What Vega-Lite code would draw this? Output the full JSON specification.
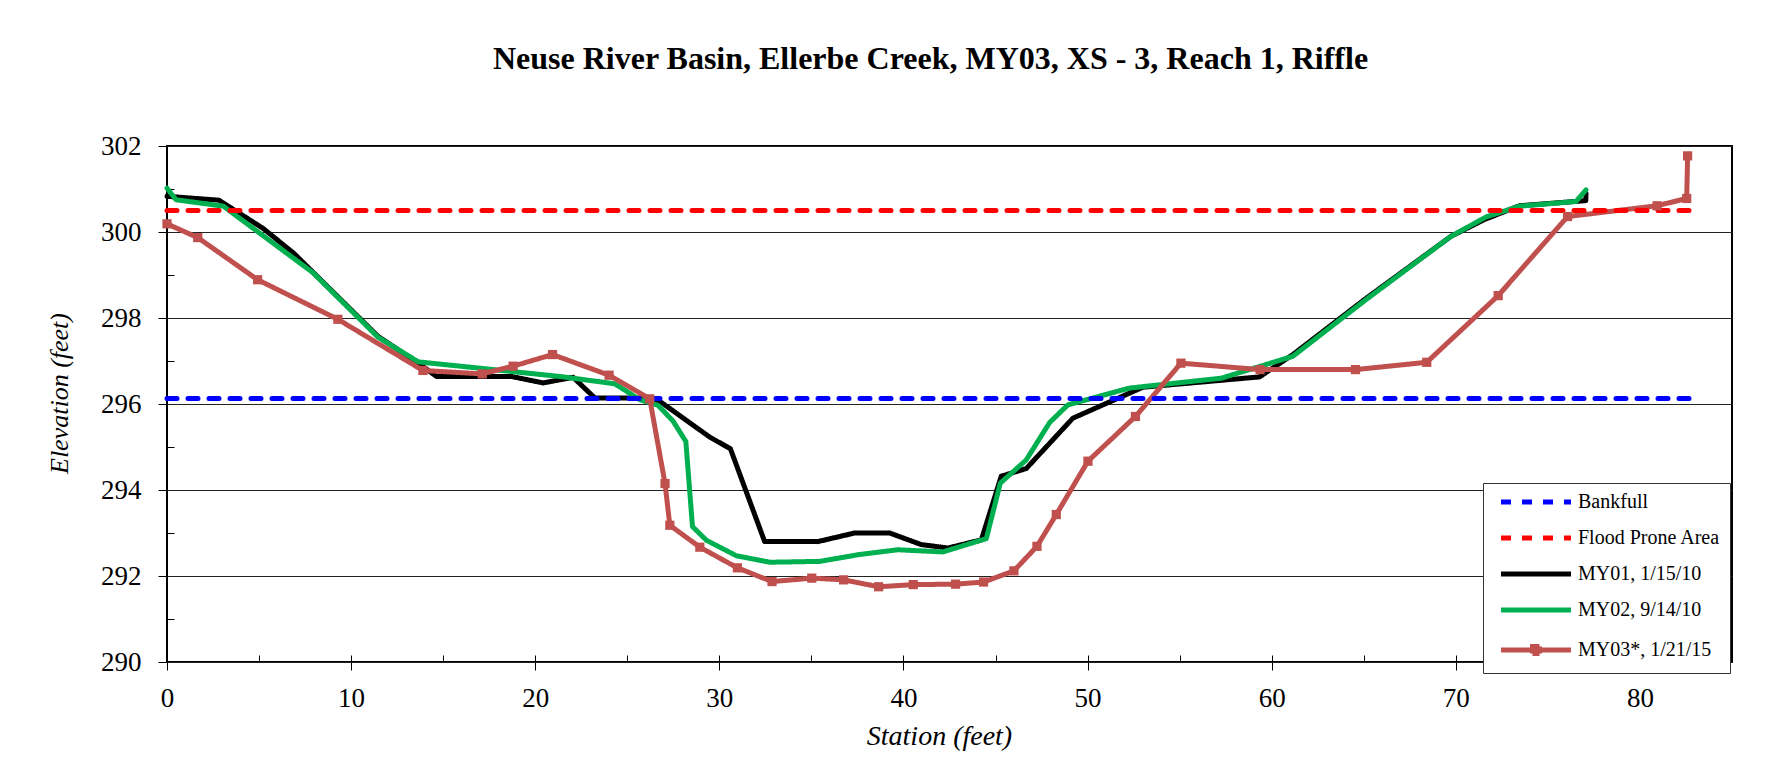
{
  "$schema": "https://vega.github.io/schema/vega-lite/v6.json",
  "width": 1565,
  "height": 516,
  "autosize": {"type": "none"},
  "padding": {"left": 167, "top": 146, "right": 54, "bottom": 109},
  "background": "white",
  "title": {
    "text": "Neuse River Basin, Ellerbe Creek, MY03, XS - 3, Reach 1, Riffle",
    "font": "Liberation Serif", "fontSize": 32, "fontWeight": "bold", "color": "black",
    "anchor": "middle", "baseline": "alphabetic", "offset": 31, "dx": -19
  },
  "config": {
    "view": {"stroke": "black", "strokeWidth": 2},
    "font": "Liberation Serif"
  },
  "data": {"values": [
    {"s": "Bankfull", "x": 0, "y": 296.13},
    {"s": "Bankfull", "x": 82.9, "y": 296.13},
    {"s": "Flood Prone Area", "x": 0, "y": 300.5},
    {"s": "Flood Prone Area", "x": 82.9, "y": 300.5},
    {"s": "MY01, 1/15/10", "x": 0, "y": 300.83},
    {"s": "MY01, 1/15/10", "x": 2.82, "y": 300.74},
    {"s": "MY01, 1/15/10", "x": 5.23, "y": 300.08},
    {"s": "MY01, 1/15/10", "x": 6.9, "y": 299.5},
    {"s": "MY01, 1/15/10", "x": 11.47, "y": 297.57},
    {"s": "MY01, 1/15/10", "x": 13.55, "y": 296.98},
    {"s": "MY01, 1/15/10", "x": 14.64, "y": 296.64},
    {"s": "MY01, 1/15/10", "x": 18.71, "y": 296.64},
    {"s": "MY01, 1/15/10", "x": 20.43, "y": 296.49},
    {"s": "MY01, 1/15/10", "x": 22.06, "y": 296.62},
    {"s": "MY01, 1/15/10", "x": 23.24, "y": 296.14},
    {"s": "MY01, 1/15/10", "x": 26.2, "y": 296.14},
    {"s": "MY01, 1/15/10", "x": 26.77, "y": 296.06},
    {"s": "MY01, 1/15/10", "x": 29.48, "y": 295.23},
    {"s": "MY01, 1/15/10", "x": 30.6, "y": 294.96},
    {"s": "MY01, 1/15/10", "x": 32.46, "y": 292.8},
    {"s": "MY01, 1/15/10", "x": 35.36, "y": 292.8},
    {"s": "MY01, 1/15/10", "x": 37.35, "y": 293.0},
    {"s": "MY01, 1/15/10", "x": 39.25, "y": 293.0},
    {"s": "MY01, 1/15/10", "x": 40.97, "y": 292.73},
    {"s": "MY01, 1/15/10", "x": 42.42, "y": 292.65},
    {"s": "MY01, 1/15/10", "x": 44.23, "y": 292.84},
    {"s": "MY01, 1/15/10", "x": 45.31, "y": 294.32},
    {"s": "MY01, 1/15/10", "x": 46.67, "y": 294.5},
    {"s": "MY01, 1/15/10", "x": 49.2, "y": 295.67},
    {"s": "MY01, 1/15/10", "x": 53.0, "y": 296.39},
    {"s": "MY01, 1/15/10", "x": 59.34, "y": 296.63},
    {"s": "MY01, 1/15/10", "x": 61.15, "y": 297.15},
    {"s": "MY01, 1/15/10", "x": 65.04, "y": 298.43},
    {"s": "MY01, 1/15/10", "x": 69.74, "y": 299.9},
    {"s": "MY01, 1/15/10", "x": 71.55, "y": 300.29},
    {"s": "MY01, 1/15/10", "x": 73.45, "y": 300.61},
    {"s": "MY01, 1/15/10", "x": 77.06, "y": 300.73},
    {"s": "MY01, 1/15/10", "x": 77.07, "y": 300.9},
    {"s": "MY02, 9/14/10", "x": 0, "y": 301.02},
    {"s": "MY02, 9/14/10", "x": 0.49, "y": 300.75},
    {"s": "MY02, 9/14/10", "x": 3.06, "y": 300.6},
    {"s": "MY02, 9/14/10", "x": 7.94, "y": 299.05},
    {"s": "MY02, 9/14/10", "x": 11.47, "y": 297.55},
    {"s": "MY02, 9/14/10", "x": 13.65, "y": 296.98},
    {"s": "MY02, 9/14/10", "x": 21.34, "y": 296.64},
    {"s": "MY02, 9/14/10", "x": 24.32, "y": 296.47},
    {"s": "MY02, 9/14/10", "x": 25.68, "y": 296.1},
    {"s": "MY02, 9/14/10", "x": 26.67, "y": 295.97},
    {"s": "MY02, 9/14/10", "x": 27.49, "y": 295.6},
    {"s": "MY02, 9/14/10", "x": 28.18, "y": 295.13},
    {"s": "MY02, 9/14/10", "x": 28.54, "y": 293.15},
    {"s": "MY02, 9/14/10", "x": 29.3, "y": 292.83},
    {"s": "MY02, 9/14/10", "x": 30.93, "y": 292.47},
    {"s": "MY02, 9/14/10", "x": 32.74, "y": 292.32},
    {"s": "MY02, 9/14/10", "x": 35.45, "y": 292.34},
    {"s": "MY02, 9/14/10", "x": 37.62, "y": 292.5},
    {"s": "MY02, 9/14/10", "x": 39.7, "y": 292.61},
    {"s": "MY02, 9/14/10", "x": 42.14, "y": 292.56},
    {"s": "MY02, 9/14/10", "x": 44.5, "y": 292.87},
    {"s": "MY02, 9/14/10", "x": 45.26, "y": 294.16},
    {"s": "MY02, 9/14/10", "x": 46.67, "y": 294.7},
    {"s": "MY02, 9/14/10", "x": 47.94, "y": 295.57},
    {"s": "MY02, 9/14/10", "x": 48.93, "y": 295.98},
    {"s": "MY02, 9/14/10", "x": 52.28, "y": 296.37},
    {"s": "MY02, 9/14/10", "x": 57.26, "y": 296.6},
    {"s": "MY02, 9/14/10", "x": 61.15, "y": 297.11},
    {"s": "MY02, 9/14/10", "x": 65.13, "y": 298.43},
    {"s": "MY02, 9/14/10", "x": 69.74, "y": 299.9},
    {"s": "MY02, 9/14/10", "x": 71.64, "y": 300.35},
    {"s": "MY02, 9/14/10", "x": 73.45, "y": 300.6},
    {"s": "MY02, 9/14/10", "x": 76.53, "y": 300.71},
    {"s": "MY02, 9/14/10", "x": 77.07, "y": 300.98},
    {"s": "MY03*, 1/21/15", "x": 0, "y": 300.19},
    {"s": "MY03*, 1/21/15", "x": 1.67, "y": 299.87},
    {"s": "MY03*, 1/21/15", "x": 4.92, "y": 298.89},
    {"s": "MY03*, 1/21/15", "x": 9.28, "y": 297.97},
    {"s": "MY03*, 1/21/15", "x": 13.9, "y": 296.78},
    {"s": "MY03*, 1/21/15", "x": 17.12, "y": 296.7},
    {"s": "MY03*, 1/21/15", "x": 18.8, "y": 296.88},
    {"s": "MY03*, 1/21/15", "x": 20.94, "y": 297.15},
    {"s": "MY03*, 1/21/15", "x": 24.01, "y": 296.67},
    {"s": "MY03*, 1/21/15", "x": 26.22, "y": 296.12},
    {"s": "MY03*, 1/21/15", "x": 27.05, "y": 294.15},
    {"s": "MY03*, 1/21/15", "x": 27.31, "y": 293.18},
    {"s": "MY03*, 1/21/15", "x": 28.94, "y": 292.67},
    {"s": "MY03*, 1/21/15", "x": 30.98, "y": 292.19},
    {"s": "MY03*, 1/21/15", "x": 32.86, "y": 291.87},
    {"s": "MY03*, 1/21/15", "x": 35.02, "y": 291.95},
    {"s": "MY03*, 1/21/15", "x": 36.75, "y": 291.91},
    {"s": "MY03*, 1/21/15", "x": 38.65, "y": 291.75},
    {"s": "MY03*, 1/21/15", "x": 40.53, "y": 291.8},
    {"s": "MY03*, 1/21/15", "x": 42.83, "y": 291.81},
    {"s": "MY03*, 1/21/15", "x": 44.35, "y": 291.86},
    {"s": "MY03*, 1/21/15", "x": 46.0, "y": 292.12},
    {"s": "MY03*, 1/21/15", "x": 47.25, "y": 292.69},
    {"s": "MY03*, 1/21/15", "x": 48.3, "y": 293.43},
    {"s": "MY03*, 1/21/15", "x": 50.02, "y": 294.67},
    {"s": "MY03*, 1/21/15", "x": 52.6, "y": 295.71},
    {"s": "MY03*, 1/21/15", "x": 55.07, "y": 296.95},
    {"s": "MY03*, 1/21/15", "x": 59.37, "y": 296.8},
    {"s": "MY03*, 1/21/15", "x": 64.55, "y": 296.8},
    {"s": "MY03*, 1/21/15", "x": 68.42, "y": 296.97},
    {"s": "MY03*, 1/21/15", "x": 72.3, "y": 298.52},
    {"s": "MY03*, 1/21/15", "x": 76.07, "y": 300.36},
    {"s": "MY03*, 1/21/15", "x": 80.93, "y": 300.61},
    {"s": "MY03*, 1/21/15", "x": 82.54, "y": 300.78},
    {"s": "MY03*, 1/21/15", "x": 82.59, "y": 301.77}
  ]},
  "layer": [
    {
      "transform": [{"filter": "indexof(datum.s, 'MY') === 0"}],
      "mark": {"type": "line", "strokeCap": "round", "strokeJoin": "round"},
      "encoding": {
        "x": {"field": "x", "type": "quantitative", "scale": {"domain": [0, 85], "nice": false, "zero": false},
          "axis": {"orient": "bottom", "values": [0, 10, 20, 30, 40, 50, 60, 70, 80], "tickSize": 8, "tickColor": "black", "tickWidth": 1,
            "labelFont": "Liberation Serif", "labelFontSize": 27, "labelColor": "black", "labelPadding": 15, "labelFlush": false,
            "domain": false, "grid": false,
            "title": "Station (feet)", "titleFont": "Liberation Serif", "titleFontSize": 28, "titleFontStyle": "italic", "titleFontWeight": "normal", "titleColor": "black", "titlePadding": 11, "titleX": 772}},
        "y": {"field": "y", "type": "quantitative", "scale": {"domain": [290, 302], "nice": false, "zero": false},
          "axis": {"orient": "left", "values": [290, 292, 294, 296, 298, 300, 302], "tickSize": 9, "tickColor": "black", "tickWidth": 1,
            "labelFont": "Liberation Serif", "labelFontSize": 27, "labelColor": "black", "labelPadding": 17, "labelFlush": false,
            "domain": false, "grid": true, "gridColor": "#222", "gridWidth": 1,
            "title": "Elevation (feet)", "titleFont": "Liberation Serif", "titleFontSize": 26, "titleFontStyle": "italic", "titleFontWeight": "normal", "titleColor": "black", "titlePadding": 28, "titleY": 247}},
        "color": {"field": "s", "type": "nominal",
          "scale": {"domain": ["Bankfull", "Flood Prone Area", "MY01, 1/15/10", "MY02, 9/14/10", "MY03*, 1/21/15"], "range": ["#0000FF", "#FF0000", "#000000", "#00B050", "#C0504D"]},
          "legend": {"orient": "none", "legendX": 1316, "legendY": 337, "title": null,
            "symbolType": "M-0.2,0H13.8", "symbolSize": 100,
            "labelFont": "Liberation Serif", "labelFontSize": 20, "labelColor": "black", "labelOffset": 66,
            "fillColor": "white", "strokeColor": "#333", "padding": 9, "rowPadding": 16,
            "encode": {"symbols": {"update": {
              "shape": {"signal": "datum.value === 'MY03*, 1/21/15' ? 'M-0.2,0H13.8M6.1,-0.7H7.5V0.7H6.1Z' : 'M-0.2,0H13.8'"},
              "fill": {"signal": "datum.value === 'MY03*, 1/21/15' ? '#C0504D' : 'transparent'"}
            }}}}},
        "strokeDash": {"field": "s", "type": "nominal",
          "scale": {"domain": ["Bankfull", "Flood Prone Area", "MY01, 1/15/10", "MY02, 9/14/10", "MY03*, 1/21/15"], "range": [[10, 11], [10, 11], [1, 0], [1, 0], [1, 0]]}},
        "strokeWidth": {"field": "s", "type": "nominal",
          "scale": {"domain": ["Bankfull", "Flood Prone Area", "MY01, 1/15/10", "MY02, 9/14/10", "MY03*, 1/21/15"], "range": [5, 5, 1.3, 1.8, 1.8]}}
      }
    },
    {
      "transform": [{"filter": "indexof(datum.s, 'MY') !== 0"}],
      "mark": {"type": "line", "strokeCap": "round"},
      "encoding": {
        "x": {"field": "x", "type": "quantitative", "axis": null},
        "y": {"field": "y", "type": "quantitative", "axis": null},
        "color": {"field": "s", "type": "nominal"},
        "strokeDash": {"field": "s", "type": "nominal"},
        "strokeWidth": {"field": "s", "type": "nominal"}
      }
    },
    {
      "transform": [{"filter": "datum.s === 'MY03*, 1/21/15'"}],
      "mark": {"type": "point", "shape": "square", "filled": true, "size": 85, "color": "#C0504D", "opacity": 1},
      "encoding": {
        "x": {"field": "x", "type": "quantitative",
          "axis": {"orient": "bottom", "values": [5, 10, 15, 20, 25, 30, 35, 40, 45, 50, 55, 60, 65, 70, 75, 80], "tickSize": -7, "tickColor": "black", "tickWidth": 1, "labels": false, "domain": false, "grid": false, "title": null}},
        "y": {"field": "y", "type": "quantitative",
          "axis": {"orient": "left", "values": [291, 293, 295, 297, 299, 301], "tickSize": -7, "tickColor": "black", "tickWidth": 1, "labels": false, "domain": false, "grid": false, "title": null}}
      }
    }
  ],
  "resolve": {"axis": {"x": "independent", "y": "independent"}}
}
